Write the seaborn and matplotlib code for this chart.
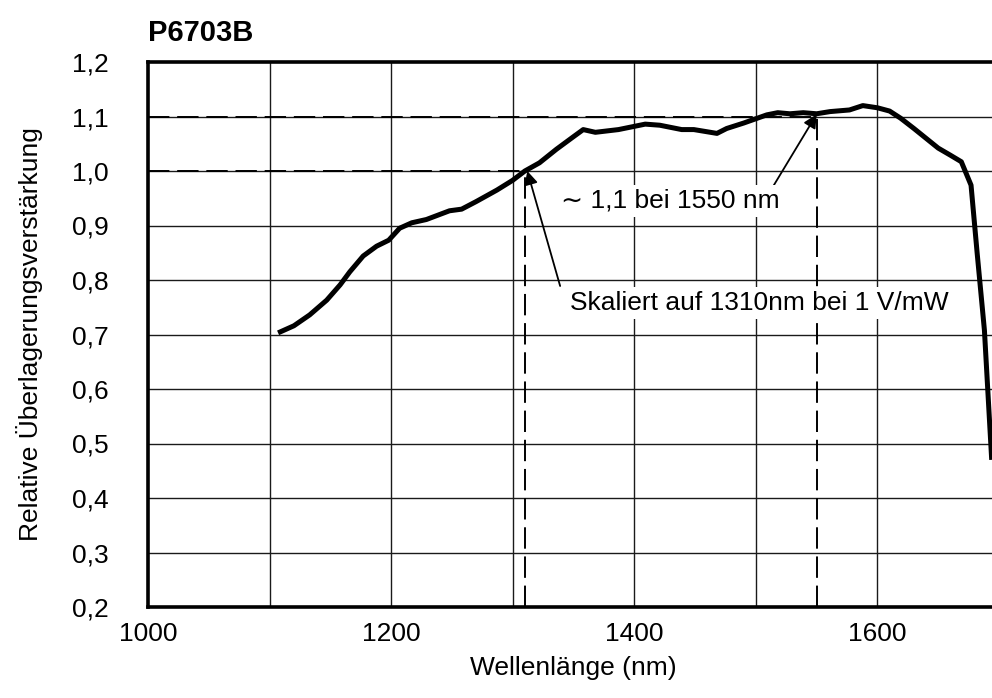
import matplotlib
matplotlib.use("Agg")
import matplotlib.pyplot as plt
from matplotlib.ticker import FixedLocator, FuncFormatter
import numpy as np
import pandas as pd
import seaborn as sns

# Relative heterodyne gain of the P6703B over wavelength
wavelength_nm = [1107, 1120, 1133, 1147, 1158, 1166, 1177, 1188, 1198, 1207,
                 1217, 1229, 1248, 1258, 1270, 1287, 1300, 1310, 1322, 1336,
                 1350, 1358, 1368, 1387, 1409, 1421, 1439, 1449, 1468, 1476,
                 1490, 1509, 1518, 1528, 1539, 1550, 1561, 1577, 1588, 1600,
                 1610, 1619, 1630, 1640, 1650, 1660, 1669, 1677, 1682, 1688,
                 1694]
rel_gain = [0.703, 0.716, 0.736, 0.763, 0.791, 0.815, 0.844, 0.862, 0.873, 0.895,
            0.905, 0.911, 0.927, 0.930, 0.944, 0.965, 0.983, 1.000, 1.015, 1.040,
            1.063, 1.076, 1.071, 1.076, 1.086, 1.084, 1.076, 1.076, 1.069, 1.078,
            1.088, 1.103, 1.107, 1.105, 1.107, 1.105, 1.109, 1.112, 1.120, 1.116,
            1.110, 1.097, 1.078, 1.060, 1.042, 1.029, 1.017, 0.974, 0.850, 0.708,
            0.470]

x_ticks = [1000, 1200, 1400, 1600]
x_grid = [1100, 1200, 1300, 1400, 1500, 1600]
y_ticks = [0.2, 0.3, 0.4, 0.5, 0.6, 0.7, 0.8, 0.9, 1.0, 1.1, 1.2]

ref_wavelength = 1310
ref_gain = 1.0
peak_wavelength = 1550
peak_gain = 1.1

title = "P6703B"
x_label = "Wellenlänge (nm)"
y_label = "Relative Überlagerungsverstärkung"
note_peak = "∼ 1,1 bei 1550 nm"
note_ref = "Skaliert auf 1310nm bei 1 V/mW"

df = pd.DataFrame({"wl": wavelength_nm, "gain": rel_gain})

sns.set_theme(style="white")
plt.rcParams["font.family"] = ["Liberation Sans", "DejaVu Sans"]
plt.rcParams["text.color"] = "black"
plt.rcParams["axes.labelcolor"] = "black"

fig = plt.figure(figsize=(9.92, 6.98), dpi=100)
ax = fig.add_axes([148 / 992, 91 / 698, 851 / 992, 545 / 698])

# grid
for gx in x_grid:
    ax.axvline(gx, color="#1a1a1a", lw=1.0, zorder=1)
for gy in y_ticks[1:-1]:
    ax.axhline(gy, color="#1a1a1a", lw=1.0, zorder=1)

# reference dashed guides
dash = dict(color="black", lw=1.4, dashes=(11, 4), zorder=2)
ax.plot([1000, ref_wavelength], [ref_gain, ref_gain], **dash)
ax.plot([ref_wavelength, ref_wavelength], [0.2, ref_gain], **dash)
ax.plot([1000, peak_wavelength], [peak_gain, peak_gain], **dash)
ax.plot([peak_wavelength, peak_wavelength], [0.2, peak_gain], **dash)

sns.lineplot(data=df, x="wl", y="gain", ax=ax, color="black", lw=3.6,
             zorder=4, sort=False, solid_capstyle="butt")

ax.set_xlim(1000, 1700)
ax.set_ylim(0.2, 1.2)
ax.xaxis.set_major_locator(FixedLocator(x_ticks))
ax.yaxis.set_major_locator(FixedLocator(y_ticks))
ax.yaxis.set_major_formatter(FuncFormatter(lambda v, p: f"{v:.1f}".replace(".", ",")))
ax.tick_params(axis="both", length=0, labelsize=19, colors="black")
ax.tick_params(axis="y", pad=28)
ax.tick_params(axis="x", pad=11)

for side in ["left", "bottom", "top"]:
    ax.spines[side].set_visible(True)
    ax.spines[side].set_color("black")
    ax.spines[side].set_linewidth(2.6)
ax.spines["right"].set_visible(False)

ax.set_xlabel(x_label, fontsize=19, labelpad=7)
ax.set_ylabel(y_label, fontsize=19, labelpad=21)

fig.text(148 / 992, 1 - 41 / 698, title, fontsize=21, fontweight="bold",
         ha="left", va="baseline")

arrow = dict(arrowstyle="-|>", lw=1.3, color="black", mutation_scale=20,
             shrinkA=0, shrinkB=0)
box = dict(boxstyle="square,pad=0.15", fc="white", ec="none")

ax.annotate("", xy=(peak_wavelength, 1.104), xytext=(1514, 0.971),
            arrowprops=arrow, zorder=5)
ax.text(1430, 0.945, note_peak, fontsize=19, ha="center", va="center",
        bbox=box, zorder=6)

ax.annotate("", xy=(ref_wavelength + 2, 1.0), xytext=(1339, 0.789),
            arrowprops=arrow, zorder=5)
ax.text(1503, 0.757, note_ref, fontsize=19, ha="center", va="center",
        bbox=box, zorder=6)

fig.savefig("out.png", dpi=100)
